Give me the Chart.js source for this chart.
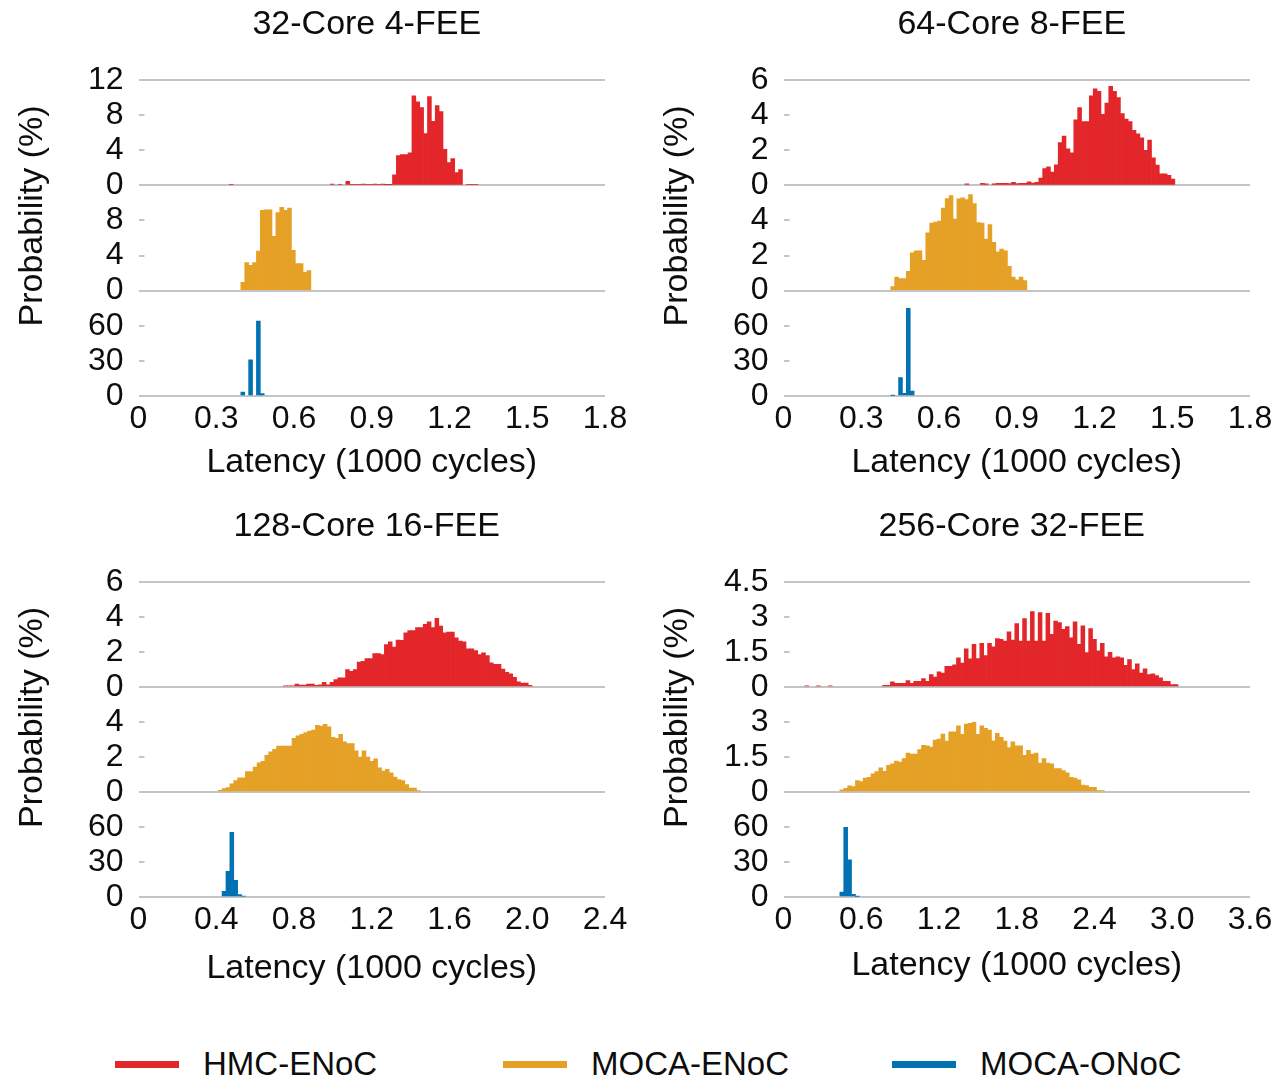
<!DOCTYPE html>
<html>
<head>
<meta charset="utf-8">
<title>Latency distributions</title>
<script src="https://cdn.jsdelivr.net/npm/chart.js@4.4.1/dist/chart.umd.min.js"></script>
<style>
  html, body { margin: 0; padding: 0; background: #fff; }
  body { position: relative; width: 1278px; height: 1078px; overflow: hidden;
         font-family: "Liberation Sans", Arial, sans-serif; color: #0d0d0d; }
  canvas { position: absolute; }
  .legend-item { position: absolute; top: 1044px; height: 40px; display: flex; align-items: center;
                 font-size: 33px; white-space: nowrap; }
  .legend-item span { display: inline-block; width: 64px; height: 7px; margin-right: 24px; }
</style>
</head>
<body>
<canvas id="c32" width="640" height="500" style="left:0;top:0"></canvas>
<canvas id="c64" width="638" height="500" style="left:640px;top:0"></canvas>
<canvas id="c128" width="640" height="500" style="left:0;top:500px"></canvas>
<canvas id="c256" width="638" height="500" style="left:640px;top:500px"></canvas>
<div id="legend"></div>

<script>
// ---- data -------------------------------------------------------------
const seriesNames = ['HMC-ENoC', 'MOCA-ENoC', 'MOCA-ONoC'];
const panelTitles = ['32-Core 4-FEE', '64-Core 8-FEE', '128-Core 16-FEE', '256-Core 32-FEE'];
const xMax = [1.8, 1.8, 2.4, 3.6];
const xStep = [0.3, 0.3, 0.4, 0.6];
const binWidth = [0.015, 0.015, 0.02, 0.03];   // histogram bin, 1000 cycles
const enocMax = [12, 6, 6, 4.5];               // two upper strips
const enocStep = [4, 2, 2, 1.5];
const onocMax = 90;                            // bottom strip
const onocStep = 30;

// each histogram: left edge of its first bin + probability (%) per bin
const hmc32Start = 0.35;
const hmc32 = [0.1, 0, 0, 0, 0, 0, 0, 0, 0, 0, 0, 0, 0, 0, 0, 0, 0, 0, 0, 0, 0, 0, 0, 0, 0, 0,
  0.15, 0, 0.1, 0, 0.45, 0.1, 0.1, 0.1, 0.15, 0.1, 0.1, 0.15, 0.1, 0.15, 0.05, 0.05,
  1.2, 3.4, 3.5, 3.5, 3.7, 10.2, 9.5, 8.85, 5.9, 10.1, 7.3, 9.1, 8.4, 4.1, 2.6, 3.05, 1.45, 1.8,
  0, 0.1, 0.1, 0.1];
const mocaE32Start = 0.395;
const mocaE32 = [0.96, 3.2, 2.9, 3.2, 4.5, 9.15, 9.2, 9.2, 6.2, 8.9, 9.5, 9.15, 9.4, 4.6, 3.1, 3.1, 2.1, 2.3];
const mocaO32Start = 0.395;
const mocaO32 = [3.4, 0, 31, 0, 64, 2];

const hmc64Start = 0.7;
const hmc64 = [0.08, 0, 0, 0, 0.11, 0.08, 0, 0.08, 0.11, 0.11, 0.11, 0.1, 0.17, 0.1, 0.11, 0.11, 0.2, 0.13, 0.17,
  0.42, 0.96, 1.05, 0.76, 1.17, 2.43, 2.8, 2.08, 1.85, 3.73, 4.43, 3.63, 3.63, 5.1, 5.49, 5.35, 4.05, 4.68,
  5.64, 5.35, 5.0, 4.09, 3.77, 3.63, 3.13, 2.94, 2.71, 1.99, 2.58, 1.57, 1.15, 0.65, 0.65, 0.57, 0.36];
const mocaE64Start = 0.414;
const mocaE64 = [0.23, 0.77, 0.69, 0.69, 1.1, 2.15, 2.27, 2.27, 1.73, 3.3, 3.85, 3.9, 3.96, 4.71, 5.25, 5.42,
  4.08, 5.23, 5.29, 5.19, 5.48, 4.96, 3.88, 3.85, 2.94, 3.77, 2.75, 2.21, 2.37, 2.27, 1.38, 0.77, 0.62, 0.77, 0.58];
const mocaO64Start = 0.414;
const mocaO64 = [0.6, 0, 15.7, 2.3, 75, 4.3];

const hmc128Start = 0.745;
const hmc128 = [0.06, 0.06, 0.06, 0.17, 0.11, 0.11, 0.17, 0.17, 0.1, 0.13, 0.27, 0.13, 0.27, 0.42, 0.52, 0.52,
  1.0, 0.9, 1.0, 1.43, 1.47, 1.63, 1.63, 1.91, 1.91, 1.85, 2.43, 2.58, 2.28, 2.68, 2.66, 3.1, 3.23, 3.23,
  3.39, 3.39, 3.58, 3.73, 3.39, 3.92, 3.48, 3.1, 3.14, 3.14, 2.81, 2.62, 2.58, 2.18, 2.18, 2.08, 1.85, 1.95,
  1.8, 1.38, 1.3, 1.3, 1.03, 0.84, 0.75, 0.55, 0.29, 0.23, 0.23, 0.1];
const mocaE128Start = 0.41;
const mocaE128 = [0.1, 0.2, 0.25, 0.46, 0.65, 0.81, 0.81, 1.17, 1.17, 1.42, 1.67, 1.75, 2.1, 2.29, 2.44, 2.62,
  2.63, 2.63, 2.63, 3.06, 3.21, 3.29, 3.4, 3.48, 3.54, 3.81, 3.77, 3.87, 3.73, 3.12, 3.06, 3.29, 2.87, 2.77,
  2.77, 2.35, 2.0, 2.35, 2.0, 1.75, 1.9, 1.38, 1.19, 1.29, 1.1, 0.85, 0.71, 0.65, 0.42, 0.23, 0.23, 0.08];
const mocaO128Start = 0.43;
const mocaO128 = [4.8, 21.9, 55.5, 14.2, 2, 0.8];

const hmc256Start = 0.165;
const hmc256 = [0.05, 0, 0, 0.05, 0, 0, 0.05, 0, 0, 0, 0, 0, 0, 0, 0, 0, 0, 0, 0, 0,
  0.07, 0.07, 0.22, 0.16, 0.16, 0.16, 0.27, 0.16, 0.24, 0.24, 0.36, 0.24, 0.53, 0.42, 0.65, 0.6, 0.89, 0.89,
  0.95, 1.25, 1.03, 1.64, 1.21, 1.83, 1.22, 1.87, 1.35, 1.87, 1.72, 2.07, 2.04, 1.97, 2.36, 2.01, 2.72, 1.97,
  2.93, 1.97, 3.23, 1.97, 3.19, 1.97, 3.16, 2.26, 2.82, 2.76, 2.47, 2.59, 2.11, 2.79, 1.83, 2.62, 1.47, 2.5,
  2.04, 1.55, 1.87, 1.29, 1.49, 1.25, 1.29, 1.25, 0.93, 1.18, 0.75, 0.99, 0.6, 0.78, 0.53, 0.56, 0.49, 0.39,
  0.24, 0.24, 0.1, 0.1];
const mocaE256Start = 0.435;
const mocaE256 = [0.09, 0.16, 0.26, 0.23, 0.49, 0.45, 0.6, 0.63, 0.78, 0.88, 1.04, 0.89, 1.14, 1.21, 1.32, 1.28,
  1.43, 1.67, 1.62, 1.62, 1.82, 2.0, 1.98, 1.93, 2.22, 2.27, 2.48, 2.18, 2.58, 2.58, 2.84, 2.47, 2.91, 2.94,
  2.99, 2.47, 2.84, 2.73, 2.65, 2.19, 2.51, 2.34, 2.18, 1.9, 2.15, 1.98, 1.98, 1.57, 1.79, 1.62, 1.67, 1.24,
  1.43, 1.24, 1.21, 1.0, 1.0, 0.92, 0.82, 0.63, 0.6, 0.52, 0.3, 0.27, 0.2, 0.2, 0.06, 0.06];
const mocaO256Start = 0.435;
const mocaO256 = [4.3, 59.8, 31.9, 2.3, 0.6];

// ---- style / layout ---------------------------------------------------
const FONT = '"Liberation Sans", Arial, sans-serif';
const TEXT = '#0d0d0d';
const COLORS = ['#E3262A', '#E5A026', '#0071B3'];
const GRID = '#c4c4c4';
const CLEAR = 'rgba(0,0,0,0)';
const Y_AXIS_WIDTH = 138.5;

Chart.defaults.font.family = FONT;
Chart.defaults.color = TEXT;

const frames = [
  { id: 'c32',  pad: { left: 0, right: 35, top: 80, bottom: 14 },   xHeight: 90 },
  { id: 'c64',  pad: { left: 5, right: 28, top: 80, bottom: 14 },   xHeight: 90 },
  { id: 'c128', pad: { left: 0, right: 35, top: 82, bottom: 7.6 },  xHeight: 95.4 },
  { id: 'c256', pad: { left: 5, right: 28, top: 82, bottom: 10.6 }, xHeight: 92.4 }
];

const panelSeries = [
  [[hmc32, hmc32Start], [mocaE32, mocaE32Start], [mocaO32, mocaO32Start]],
  [[hmc64, hmc64Start], [mocaE64, mocaE64Start], [mocaO64, mocaO64Start]],
  [[hmc128, hmc128Start], [mocaE128, mocaE128Start], [mocaO128, mocaO128Start]],
  [[hmc256, hmc256Start], [mocaE256, mocaE256Start], [mocaO256, mocaO256Start]]
];

// panel title + shared rotated y title
const panelText = {
  id: 'panelText',
  afterDraw(chart, args, opts) {
    const { ctx, chartArea: a } = chart;
    ctx.save();
    ctx.fillStyle = TEXT;
    ctx.font = '34px ' + FONT;
    ctx.textAlign = 'center';
    ctx.textBaseline = 'middle';
    ctx.fillText(opts.title, (a.left + a.right) / 2 - 5, a.top - 55);
    ctx.translate(a.left - 106, (a.top + a.bottom) / 2 - 22);
    ctx.rotate(-Math.PI / 2);
    ctx.fillText(opts.yTitle, 0, 0);
    ctx.restore();
  }
};

function bars(values, start, width) {
  return values.map((v, i) => ({ x: start + width * (i + 0.5), y: v === 0 ? null : v }));
}

function yAxis(max, step, weight, isTop) {
  const edge = v => v === 0 || (isTop && v === max);
  return {
    type: 'linear', position: 'left', stack: 'strips', stackWeight: 1, weight: weight,
    min: 0, max: max, offset: false,
    afterFit: s => { s.width = Y_AXIS_WIDTH; },
    border: { display: false },
    grid: {
      lineWidth: 2, tickLength: -6, drawTicks: true,
      color: c => edge(c.tick.value) ? GRID : CLEAR,
      tickColor: c => (!isTop && c.tick.value === max) ? CLEAR : GRID
    },
    ticks: {
      stepSize: step, autoSkip: false, padding: 21, font: { size: 32 }, color: TEXT,
      callback: v => (!isTop && v === max) ? '' : String(+v.toFixed(2))
    }
  };
}

function hiddenX(p) {
  return { type: 'linear', display: false, min: 0, max: xMax[p], offset: false };
}

frames.forEach((frame, p) => {
  const xIds = ['x', 'x2', 'x3'];
  const yIds = ['yTop', 'yMid', 'yBot'];
  new Chart(document.getElementById(frame.id), {
    type: 'bar',
    data: {
      datasets: seriesNames.map((name, s) => ({
        label: name,
        data: bars(panelSeries[p][s][0], panelSeries[p][s][1], binWidth[p]),
        xAxisID: xIds[s],
        yAxisID: yIds[s],
        backgroundColor: COLORS[s],
        borderWidth: 0,
        barPercentage: 1,
        categoryPercentage: 1,
        grouped: false
      }))
    },
    options: {
      responsive: false,
      animation: false,
      layout: { padding: frame.pad },
      plugins: {
        legend: { display: false },
        tooltip: { enabled: false },
        panelText: { title: panelTitles[p], yTitle: 'Probability (%)' }
      },
      scales: {
        x: {
          type: 'linear', min: 0, max: xMax[p], offset: false,
          afterFit: s => { s.height = frame.xHeight; },
          border: { display: false },
          grid: { display: false, drawTicks: false },
          ticks: {
            stepSize: xStep[p], autoSkip: false, maxRotation: 0, padding: 4,
            font: { size: 32 }, color: TEXT,
            callback: v => v === 0 ? '0' : v.toFixed(1)
          },
          title: {
            display: true, text: 'Latency (1000 cycles)', color: TEXT,
            font: { size: 34 }, padding: { top: 0, bottom: 3 }
          }
        },
        x2: hiddenX(p),
        x3: hiddenX(p),
        yTop: yAxis(enocMax[p], enocStep[p], 3, true),
        yMid: yAxis(enocMax[p], enocStep[p], 2, false),
        yBot: yAxis(onocMax, onocStep, 1, false)
      }
    },
    plugins: [panelText]
  });
});

// shared legend
const legendLeft = [115, 503, 892];
const legend = document.getElementById('legend');
seriesNames.forEach((name, s) => {
  const item = document.createElement('div');
  item.className = 'legend-item';
  item.style.left = legendLeft[s] + 'px';
  const swatch = document.createElement('span');
  swatch.style.background = COLORS[s];
  item.appendChild(swatch);
  item.appendChild(document.createTextNode(name));
  legend.appendChild(item);
});
</script>
</body>
</html>
